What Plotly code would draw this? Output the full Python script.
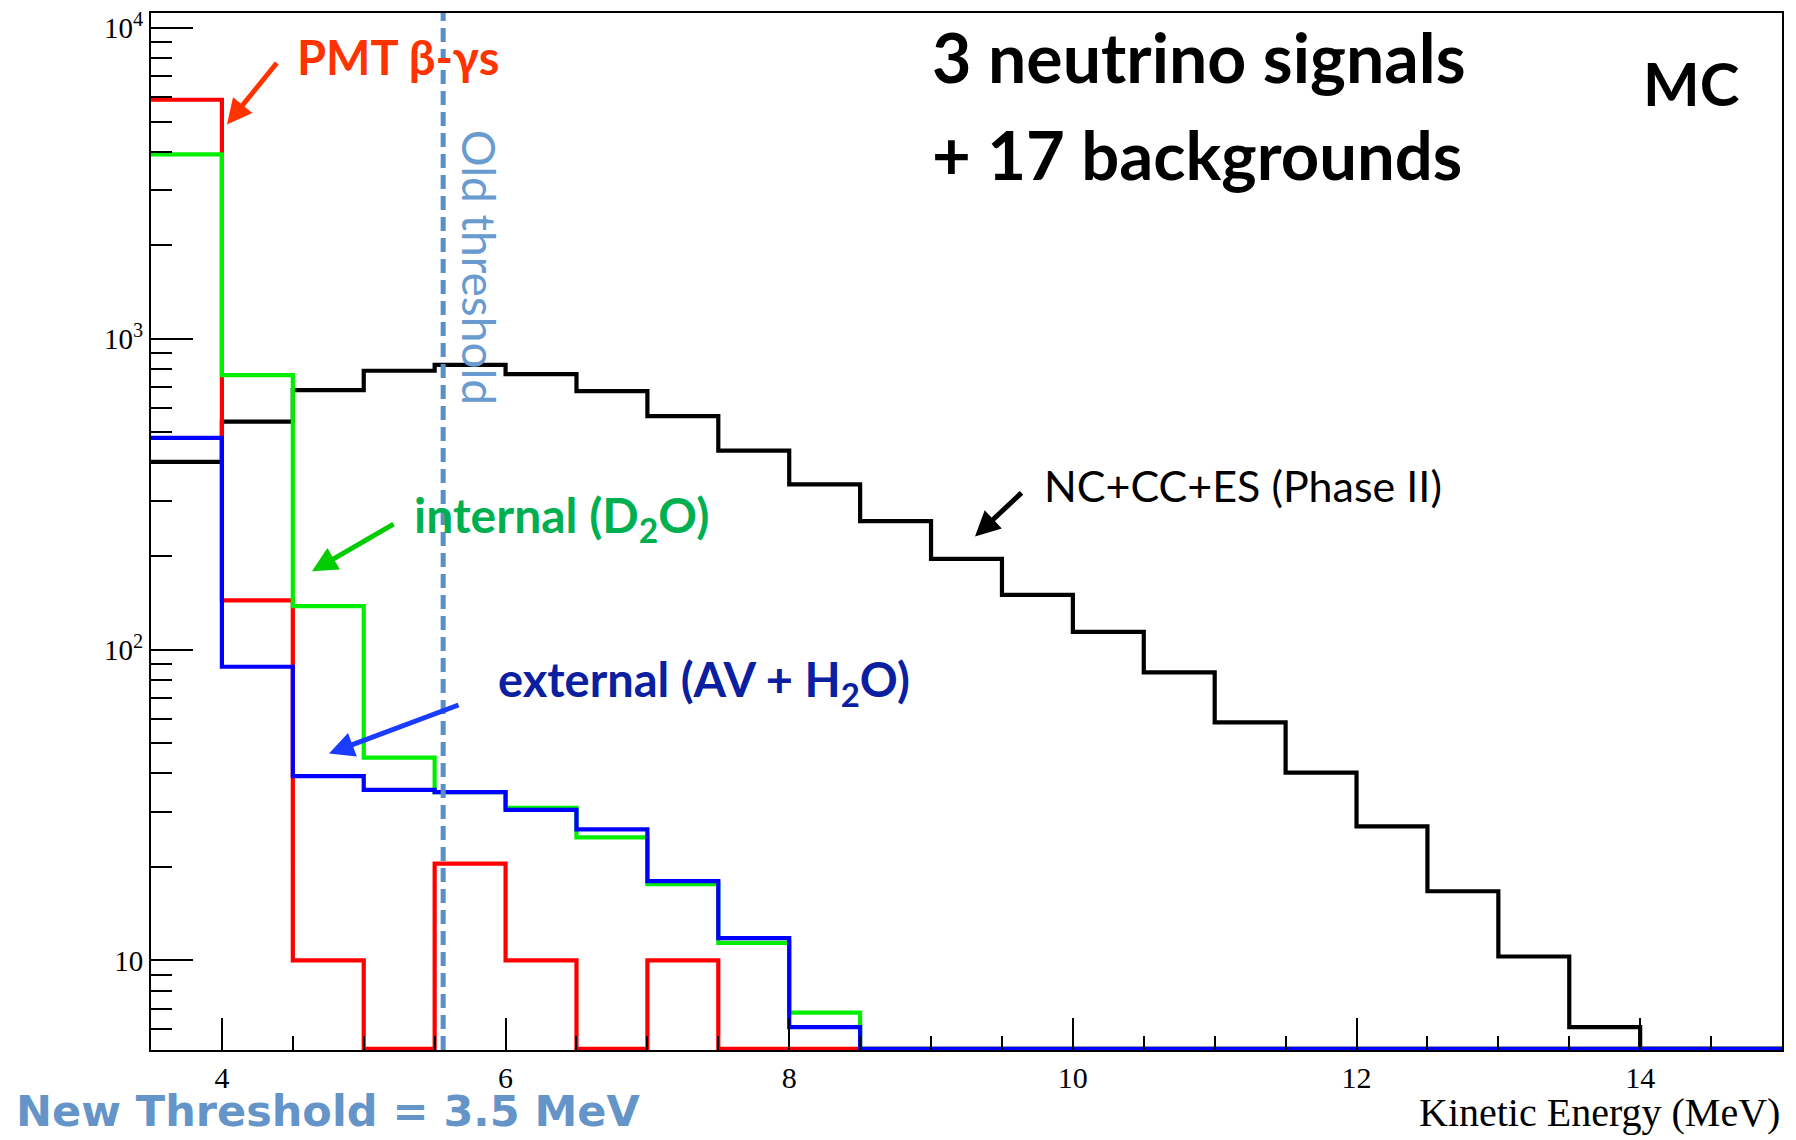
import plotly.graph_objects as go

# ---------------- data ----------------
BIN_EDGES = [3.5, 4.0, 4.5, 5.0, 5.5, 6.0, 6.5, 7.0, 7.5, 8.0, 8.5, 9.0, 9.5,
             10.0, 10.5, 11.0, 11.5, 12.0, 12.5, 13.0, 13.5, 14.0, 14.5, 15.0]

SIGNAL_NC_CC_ES = [402, 541, 684, 789, 824, 770, 679, 564, 437, 340, 259, 196,
                   150, 114, 84.5, 58.3, 40.2, 27.0, 16.7, 10.3, 6.1, 0, 0]
PMT_BETA_GAMMA = [5875, 144, 10, 0, 20.5, 10, 0, 10, 0, 0, 0, 0,
                  0, 0, 0, 0, 0, 0, 0, 0, 0, 0, 0]
INTERNAL_D2O = [3917, 764, 138, 44.9, 34.8, 31.0, 24.9, 17.6, 11.4, 6.8, 0, 0,
                0, 0, 0, 0, 0, 0, 0, 0, 0, 0, 0]
EXTERNAL_AV_H2O = [480, 88.1, 39.2, 35.4, 34.8, 30.5, 26.4, 18.0, 11.8, 6.1, 0, 0,
                   0, 0, 0, 0, 0, 0, 0, 0, 0, 0, 0]

OLD_THRESHOLD = 5.56
X_TICKS = [4, 6, 8, 10, 12, 14]
Y_TICKS = [10, 100, 1000, 10000]
Y_TICK_TEXT = ["10", "10<sup>2</sup>", "10<sup>3</sup>", "10<sup>4</sup>"]
Y_MINOR = [m * d for d in (1, 10, 100, 1000) for m in range(2, 10)] + [6, 7, 8, 9]

X_RANGE = [3.5, 15.0]
Y_LOG_RANGE = [0.712, 4.048]
Y_FLOOR = 10 ** (Y_LOG_RANGE[0] + 0.004)

# ---------------- layout geometry (pixels) ----------------
W, H = 1796, 1140
L, R, T, B = 151, 1782, 8, 1050
PW, PH = R - L, B - T


def px(x):
    return (x - L) / PW


def py(y):
    return (B - y) / PH


def step_xy(values):
    ys = [v if v > 0 else Y_FLOOR for v in values]
    return list(BIN_EDGES), ys + [ys[-1]]


fig = go.Figure()
series = [
    (SIGNAL_NC_CC_ES, "#000000", "NC+CC+ES"),
    (PMT_BETA_GAMMA, "#ff0000", "PMT"),
    (INTERNAL_D2O, "#00ee00", "internal"),
    (EXTERNAL_AV_H2O, "#0000ff", "external"),
]
for vals, col, name in series:
    xs, ys = step_xy(vals)
    fig.add_trace(go.Scatter(x=xs, y=ys, mode="lines", name=name,
                             line=dict(color=col, width=4.2, shape="hv"),
                             showlegend=False, hoverinfo="skip"))

# old threshold dashed line
fig.add_shape(type="line", xref="x", yref="paper", x0=OLD_THRESHOLD, x1=OLD_THRESHOLD,
              y0=0, y1=1, line=dict(color="#5b8fc9", width=5, dash="14px,7px"))

CAL = "Lato, 'Open Sans', sans-serif"
ann = []


def text(x, y, s, size, color, xanchor="left", bold=True, family=CAL, angle=0):
    ann.append(dict(x=px(x), y=py(y), xref="paper", yref="paper", text=(f"<b>{s}</b>" if bold else s),
                    showarrow=False, xanchor=xanchor, yanchor="middle", textangle=angle,
                    font=dict(size=size, color=color, family=family)))


def arrow(hx, hy, tx, ty, color):
    ann.append(dict(x=px(hx), y=py(hy), xref="paper", yref="paper", ax=tx - hx, ay=ty - hy,
                    axref="pixel", ayref="pixel", text="", showarrow=True, arrowhead=2,
                    arrowsize=1.0, arrowwidth=5, arrowcolor=color))


text(398, 52, "PMT β-γs", 47, "#ff3300", xanchor="center")
text(930, 52, "3 neutrino signals", 68, "#000000")
text(930, 150, "+ 17 backgrounds", 67, "#000000")
text(1691, 78, "MC", 60, "#000000", xanchor="center")
text(1042, 483, "NC+CC+ES (Phase II)", 43, "#000000", bold=False)
text(412, 515, "internal (D<sub>2</sub>O)", 48, "#00b050")
text(496, 681, "external (AV + H<sub>2</sub>O)", 47, "#0a20a0")
text(479, 263, "Old threshold", 46, "#6a9bd0", xanchor="center", bold=False, angle=90)
text(14, 1111, "New Threshold = 3.5 MeV", 43, "#6494c8", family="'DejaVu Sans', sans-serif")
text(1782, 1113, "Kinetic Energy (MeV)", 40, "#000000", xanchor="right", bold=False,
     family="'Liberation Serif', serif")

arrow(227, 120, 278, 57, "#ff3300")
arrow(312, 569, 395, 521, "#00cc00")
arrow(329, 752, 460, 703, "#1a3cff")
arrow(975, 534, 1023, 489, "#000000")

fig.update_layout(
    width=W, height=H,
    margin=dict(l=L, r=W - R, t=T, b=H - B),
    paper_bgcolor="white", plot_bgcolor="white",
    annotations=ann,
    xaxis=dict(range=X_RANGE, tickvals=X_TICKS, ticks="inside", ticklen=32, tickwidth=2,
               tickcolor="black", showline=True, linecolor="black", linewidth=2, mirror=True,
               showgrid=False, zeroline=False,
               tickfont=dict(family="'Liberation Serif', serif", size=30, color="black"),
               minor=dict(dtick=0.5, ticks="inside", ticklen=14, tickwidth=2, tickcolor="black",
                          showgrid=False)),
    yaxis=dict(type="log", range=Y_LOG_RANGE, tickvals=Y_TICKS, ticktext=Y_TICK_TEXT,
               ticks="inside", ticklen=42, tickwidth=2, tickcolor="black",
               showline=True, linecolor="black", linewidth=2, mirror=True,
               showgrid=False, zeroline=False,
               tickfont=dict(family="'Liberation Serif', serif", size=29, color="black"),
               minor=dict(tickvals=Y_MINOR, ticks="inside", ticklen=21, tickwidth=2,
                          tickcolor="black", showgrid=False)),
)

fig.write_html("out.html")
